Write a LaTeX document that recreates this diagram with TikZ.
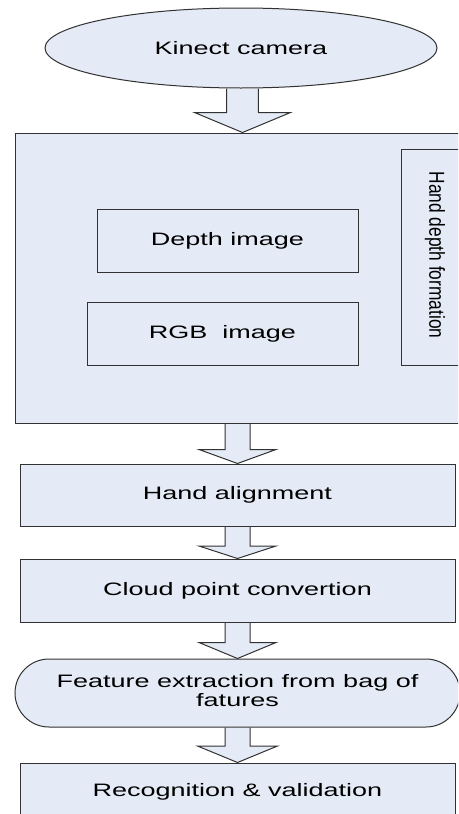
\documentclass[tikz,border=0pt]{standalone}
\usepackage{fontspec}
\setmainfont{Liberation Sans}
\usepackage{graphicx}
\usetikzlibrary{shapes.geometric,shapes.misc,backgrounds,calc}
\definecolor{boxfill}{RGB}{228,235,246}
\definecolor{linecol}{RGB}{50,50,50}
\newcommand{\hs}[1]{\scalebox{1.5}[1]{#1}}
% block arrow: #1 upper node, #2 lower node, #3 centre x, #4 shaft half width, #5 head half width, #6 head length (px)
\newcommand{\barrow}[6]{%
  \draw[shp] let \p1=(#1.south), \p2=(#2.north) in
    ({(#3-#4)*0.75pt},\y1) -- ({(#3-#4)*0.75pt},{\y2+#6*0.75pt})
    -- ({(#3-#5)*0.75pt},{\y2+#6*0.75pt}) -- ({#3*0.75pt},\y2)
    -- ({(#3+#5)*0.75pt},{\y2+#6*0.75pt}) -- ({(#3+#4)*0.75pt},{\y2+#6*0.75pt})
    -- ({(#3+#4)*0.75pt},\y1);}
\begin{document}
\begin{tikzpicture}[x=0.75pt,y=-0.75pt,
  shp/.style={draw=linecol, line width=0.75pt, fill=boxfill},
  txt/.style={font=\fontsize{13.5pt}{13.5pt}\selectfont, inner sep=0pt},
  boxn/.style={shp, rectangle, inner sep=0pt, font=\fontsize{13.5pt}{13.5pt}\selectfont}]
\useasboundingbox (0,0) rectangle (458,814);
\clip (0,0) rectangle (458,814);

\node[shp, ellipse, inner sep=0pt, minimum width=294pt, minimum height=60pt,
      font=\fontsize{13.5pt}{13.5pt}\selectfont] (cam) at (241,48) {\hs{Kinect camera}};

\node[boxn, minimum width=341.25pt, minimum height=217.5pt] (big) at (242.5,278) {};
\node[boxn, minimum width=195.75pt, minimum height=47.25pt] (depth) at (227.5,240.5) {\hs{Depth image}};
\node[boxn, minimum width=203.25pt, minimum height=47.25pt] (rgb) at (222.5,333.5) {\hs{RGB\ \ image}};
\node[boxn, minimum width=51.75pt, minimum height=162pt] (hdf) at (435.5,257) {};
\node[txt, font=\fontsize{13pt}{13pt}\selectfont] (hdft) at (435,255) {\scalebox{1.25}[1]{\rotatebox{-90}{Hand depth formation}}};

\node[boxn, minimum width=326.25pt, minimum height=46.5pt] (align) at (237.5,495) {\hs{Hand alignment}};
\node[boxn, minimum width=326.25pt, minimum height=47.25pt] (cloud) at (237.5,590.5) {\hs{Cloud point convertion}};
\node[shp, rounded rectangle, inner sep=0pt, minimum width=333.75pt, minimum height=51pt,
      font=\fontsize{13.5pt}{13.5pt}\selectfont] (feat) at (237.5,693)
      {\hs{\begin{tabular}{@{}c@{}}Feature extraction from bag of\\fatures\end{tabular}}};
\node[boxn, minimum width=326.25pt, minimum height=43.5pt] (recog) at (237.5,792) {\hs{Recognition \& validation}};

\begin{scope}[on background layer]
\fill[white] (0,0) rectangle (458,814);
\barrow{cam}{big}{242.5}{15.8}{48}{20}
\barrow{big}{align}{237.5}{12.5}{38.5}{14}
\barrow{align}{cloud}{237.5}{12.5}{38.5}{12.5}
\barrow{cloud}{feat}{237.5}{12.5}{38.5}{16}
\barrow{feat}{recog}{237.5}{12.5}{40}{16.5}
\end{scope}
\end{tikzpicture}
\end{document}
